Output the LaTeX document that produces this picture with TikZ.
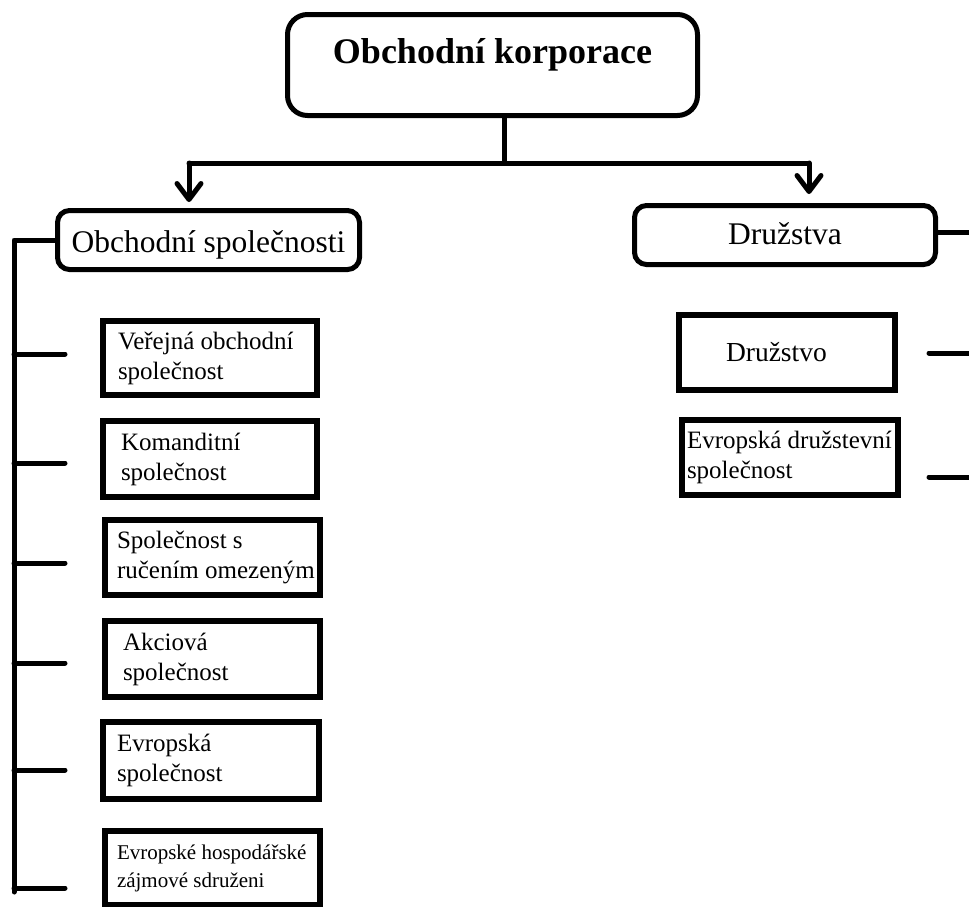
\documentclass[tikz,border=0pt]{standalone}
\usepackage{fontspec}
\setmainfont{Liberation Serif}
\usetikzlibrary{arrows.meta}
\begin{document}
\begin{tikzpicture}[x=1pt,y=-1pt,
  conn/.style={line width=5pt, line cap=round, line join=round},
  leaf/.style={draw, line width=6pt, rectangle, align=flush left, inner ysep=0pt,
    font=\fontsize{25}{30}\selectfont},
  group/.style={draw, line width=5pt, rounded corners=12pt, inner sep=0pt,
    font=\fontsize{31.5}{36}\selectfont},
  arr/.style={conn, -{Straight Barb[length=16pt,width=24pt,line cap=round,line join=round]}}
]
\useasboundingbox (0,0) rectangle (969,906);

% top box
\node[draw, line width=5pt, rounded corners=20pt, minimum width=410pt, minimum height=101pt,
  inner sep=0pt, text height=26pt, text depth=30pt,
  font=\fontsize{36}{40}\selectfont\bfseries] (top) at (492.5,65) {Obchodní korporace};

% groups
\node[group, minimum width=302pt, minimum height=59pt, text height=28pt, text depth=4pt]
  (os) at (208.5,240) {Obchodní společnosti};
\node[group, minimum width=301pt, minimum height=59pt, text height=24pt, text depth=6pt]
  (dr) at (785,235) {Družstva};

% left leaves
\node[leaf, inner xsep=15pt, text width=184pt, minimum height=74pt] (b1) at (210,358)
  {\mbox{Veřejná obchodní}\\společnost};
\node[leaf, inner xsep=18pt, text width=178pt, minimum height=76pt] (b2) at (210,459)
  {Komanditní\\společnost};
\node[leaf, inner xsep=12pt, text width=191pt, minimum height=75pt] (b3) at (212.5,557.5)
  {\mbox{Společnost s}\\\mbox{ručením omezeným}};
\node[leaf, inner xsep=18pt, text width=179pt, minimum height=76pt] (b4) at (212.5,659)
  {Akciová\\společnost};
\node[leaf, inner xsep=14pt, text width=188pt, minimum height=77pt] (b5) at (211,760.5)
  {Evropská\\společnost};
\node[leaf, inner xsep=12pt, text width=191pt, minimum height=74pt,
  font=\fontsize{21}{28}\selectfont] (b6) at (212.5,868)
  {\mbox{Evropské hospodářské}\\\mbox{zájmové sdruženi}};

% right leaves
\node[leaf, inner xsep=47pt, text width=122pt, minimum height=75pt,
  font=\fontsize{27.5}{32}\selectfont] (b7) at (787,352.5)
  {Družstvo};
\node[leaf, inner xsep=5pt, text width=206pt, minimum height=75pt] (b8) at (790,457.5)
  {\mbox{Evropská družstevní}\\společnost};

% top connectors
\coordinate (jc) at (504,163);
\coordinate (aL) at (189,163);
\coordinate (aR) at (809,163);
\coordinate (tL) at (189,202);
\coordinate (tR) at (809,194);
\draw[conn] (top.south -| jc) -- (jc);
\draw[conn] (aL) -- (aR);
\draw[arr] (aL) -- (tL);
\draw[arr] (aR) -- (tR);

% left bus
\coordinate (bus) at (14,242);
\coordinate (busEnd) at (14,892);
\draw[conn] (os.west) -- (os.west -| bus) -- (busEnd);
\foreach \n/\y in {1/354, 2/463, 3/563, 4/663, 5/770, 6/888} {
  \coordinate (s\n) at (65,\y);
  \draw[conn] (s\n -| bus) -- (s\n);
}

% right side
\coordinate (re) at (969,232);
\draw[conn, line cap=butt] (dr.east |- re) -- (re);
\coordinate (r1) at (929,353);
\coordinate (r1e) at (969,353);
\coordinate (r2) at (929,477);
\coordinate (r2e) at (969,477);
\draw[conn] (r1) -- (r1e);
\draw[conn] (r2) -- (r2e);
\end{tikzpicture}
\end{document}
